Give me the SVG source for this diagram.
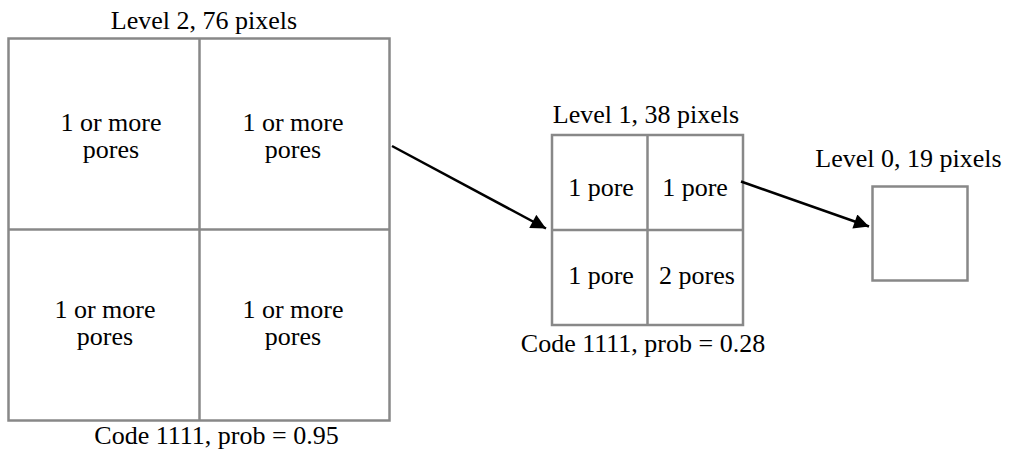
<svg xmlns="http://www.w3.org/2000/svg" width="1011" height="450" viewBox="0 0 1011 450">
<style>
.box{fill:#fff;stroke:#888;stroke-width:2.5}
.ln{stroke:#888;stroke-width:2.5}
text{font-family:"Liberation Serif","Times New Roman",serif;font-size:26px;fill:#000;text-anchor:middle}
.conn{stroke:#000;stroke-width:2.5;fill:none}
</style>
<defs>
<marker id="ah" viewBox="0 0 10 10" refX="10" refY="5" markerWidth="6.5" markerHeight="6" orient="auto" markerUnits="strokeWidth">
<path d="M0,0 L10,5 L0,10 z" fill="#000"/>
</marker>
</defs>
<g id="level2">
<text x="204" y="29">Level 2, 76 pixels</text>
<rect class="box" x="8.5" y="38.5" width="381" height="382"/>
<line class="ln" x1="199.5" y1="38.5" x2="199.5" y2="420.5"/>
<line class="ln" x1="8.5" y1="229.5" x2="389.5" y2="229.5"/>
<text x="111" y="131">1 or more</text>
<text x="111" y="158">pores</text>
<text x="293" y="131">1 or more</text>
<text x="293" y="158">pores</text>
<text x="105" y="318">1 or more</text>
<text x="105" y="345">pores</text>
<text x="293" y="318">1 or more</text>
<text x="293" y="345">pores</text>
<text x="216.5" y="444">Code 1111, prob = 0.95</text>
</g>
<g id="level1">
<text x="646" y="123">Level 1, 38 pixels</text>
<rect class="box" x="552" y="135" width="191" height="190"/>
<line class="ln" x1="647.5" y1="135" x2="647.5" y2="325"/>
<line class="ln" x1="552" y1="230" x2="743" y2="230"/>
<text x="601" y="196">1 pore</text>
<text x="695" y="196">1 pore</text>
<text x="601" y="284">1 pore</text>
<text x="697" y="284">2 pores</text>
<text x="643" y="352">Code 1111, prob = 0.28</text>
</g>
<g id="level0">
<text x="908.5" y="167">Level 0, 19 pixels</text>
<rect class="box" x="872.5" y="186.5" width="95" height="94"/>
</g>
<g id="connectors">
<line class="conn" x1="392" y1="146" x2="546" y2="228.5" marker-end="url(#ah)"/>
<line class="conn" x1="741" y1="181.5" x2="869" y2="226.5" marker-end="url(#ah)"/>
</g>
</svg>
